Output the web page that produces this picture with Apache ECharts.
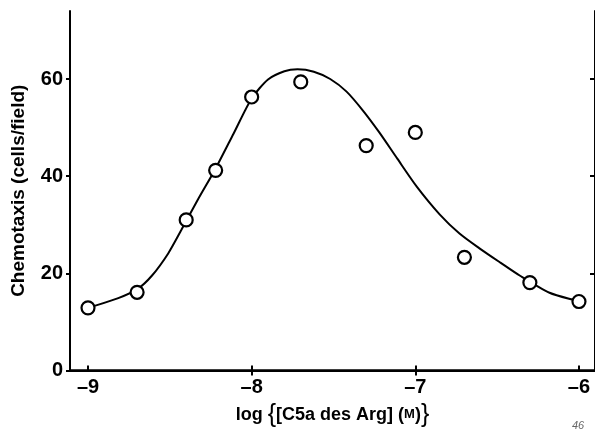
<!DOCTYPE html>
<html>
<head>
<meta charset="utf-8">
<script src="https://cdn.jsdelivr.net/npm/echarts@6/dist/echarts.min.js"></script>
<style>
  html, body { margin: 0; padding: 0; background: #fff; }
  #chart { width: 595px; height: 435px; }
</style>
</head>
<body>
<div id="chart"></div>
<script>
// measured points: log concentration, cells per field
const logConc = [-9.0, -8.7, -8.4, -8.22, -8.0, -7.7, -7.3, -7.0, -6.7, -6.3, -6.0];
const chemotaxis = [12.9, 16.1, 31.0, 41.2, 56.3, 59.4, 46.3, 49.0, 23.3, 18.1, 14.2];

// fitted curve
const curveX = [-8.96, -8.815, -8.70, -8.61, -8.51, -8.43, -8.33, -8.22, -8.11, -8.00,
  -7.90, -7.80, -7.72, -7.62, -7.52, -7.42, -7.32, -7.22, -7.11, -6.99,
  -6.85, -6.73, -6.61, -6.48, -6.36, -6.18, -6.04, -5.99];
const curveY = [13.3, 14.9, 16.7, 19.5, 24.1, 28.9, 35.1, 41.6, 48.8, 56.0,
  59.9, 61.6, 62.0, 61.5, 60.0, 57.4, 53.5, 49.0, 43.6, 37.8,
  32.1, 28.2, 25.2, 22.2, 19.5, 16.0, 14.6, 14.3];

const xTicks = [-9, -8, -7, -6];
const yTicks = [0, 20, 40, 60];

const font = '"Liberation Sans", Arial, sans-serif';
const chart = echarts.init(document.getElementById('chart'));

chart.setOption({
  animation: false,
  grid: { left: 70, right: 0, top: 11, bottom: 64.5 },
  xAxis: [
    {
      type: 'value',
      min: -9.11,
      max: -5.902,
      position: 'bottom',
      axisLine: { lineStyle: { color: '#000', width: 2.5 } },
      axisTick: { inside: true, length: 5, customValues: xTicks, lineStyle: { color: '#000', width: 2 } },
      axisLabel: {
        customValues: xTicks,
        margin: 7,
        color: '#000',
        fontFamily: font,
        fontWeight: 'bold',
        fontSize: 20,
        formatter: v => String(v).replace('-', '\u2013')
      },
      splitLine: { show: false },
      // closing brace is left as plain text so it takes the big default size
      name: '{t|log }{b|{}{t|[C5a des Arg] (}{s|M}{t|)}}',
      nameLocation: 'middle',
      nameGap: 27,
      nameTextStyle: {
        color: '#000',
        fontFamily: font,
        fontSize: 25,
        rich: {
          t: { fontFamily: font, fontWeight: 'bold', fontSize: 18, color: '#000' },
          s: { fontFamily: font, fontWeight: 'bold', fontSize: 13, color: '#000' },
          b: { fontFamily: font, fontSize: 25, color: '#000' }
        }
      }
    },
    {
      type: 'value',
      min: -9.11,
      max: -5.902,
      position: 'top',
      axisLine: { lineStyle: { color: '#000', width: 2 } },
      axisTick: { inside: true, length: 5, customValues: [-8, -7], lineStyle: { color: '#000', width: 2 } },
      axisLabel: { show: false },
      splitLine: { show: false }
    }
  ],
  yAxis: [
    {
      type: 'value',
      min: 0,
      max: 74,
      position: 'left',
      axisLine: { show: true, lineStyle: { color: '#000', width: 2 } },
      axisTick: { show: true, length: 4, customValues: yTicks, lineStyle: { color: '#000', width: 2 } },
      axisLabel: {
        customValues: yTicks,
        margin: 7,
        color: '#000',
        fontFamily: font,
        fontWeight: 'bold',
        fontSize: 20
      },
      splitLine: { show: false },
      name: 'Chemotaxis (cells/field)',
      nameLocation: 'middle',
      nameGap: 42,
      nameTextStyle: { color: '#000', fontFamily: font, fontWeight: 'bold', fontSize: 19 }
    },
    {
      type: 'value',
      min: 0,
      max: 74,
      position: 'right',
      axisLine: { show: true, lineStyle: { color: '#000', width: 2 } },
      axisTick: { show: true, inside: true, length: 5, customValues: [20, 40, 60], lineStyle: { color: '#000', width: 2 } },
      axisLabel: { show: false },
      splitLine: { show: false }
    }
  ],
  series: [
    {
      type: 'line',
      data: curveX.map((x, i) => [x, curveY[i]]),
      smooth: 0.25,
      showSymbol: false,
      lineStyle: { color: '#000', width: 2 },
      z: 2
    },
    {
      type: 'scatter',
      data: logConc.map((x, i) => [x, chemotaxis[i]]),
      symbol: 'circle',
      symbolSize: 13,
      itemStyle: { color: '#fff', opacity: 1, borderColor: '#000', borderWidth: 2.2 },
      z: 3
    }
  ],
  graphic: [
    {
      type: 'text',
      left: 572,
      top: 420,
      style: { text: '46', fill: '#666', font: 'italic 11px ' + font }
    }
  ]
});
</script>
</body>
</html>
